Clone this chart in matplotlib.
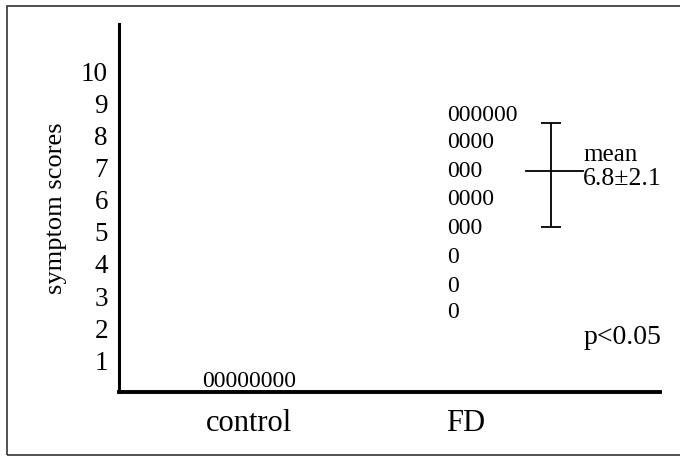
import matplotlib.pyplot as plt
from matplotlib.patches import Rectangle

plt.rcParams['font.family'] = ['Liberation Serif', 'DejaVu Serif']

groups = ["control", "FD"]
group_pos = [1, 2]

# control: all zero
control_y = 0.0
control_count = 8

# FD rows (as placed in the picture) and number of subjects in each row
fd_y = [8.65, 7.8, 6.9, 6.0, 5.1, 4.2, 3.3, 2.5]
fd_counts = [6, 4, 3, 4, 3, 1, 1, 1]

mean_y = 6.9
err_low = 5.15
err_high = 8.4

fig = plt.figure(figsize=(6.8, 4.57), dpi=100)
ax = fig.add_axes([0.175, 0.142, 0.796, 0.806])

ax.set_xlim(0.398, 2.903)
ax.set_ylim(0, 11.5)

for s in ["top", "right"]:
    ax.spines[s].set_visible(False)
ax.spines["left"].set_linewidth(2.2)
ax.spines["bottom"].set_linewidth(2.8)

ax.set_yticks(range(1, 11))
ax.set_yticklabels([str(i) for i in range(1, 11)], fontsize=19.5)
ax.tick_params(axis="y", length=0, pad=8)
ax.set_xticks(group_pos)
ax.set_xticklabels(groups, fontsize=22)
ax.tick_params(axis="x", length=0, pad=12)
ax.set_ylabel("symptom scores", fontsize=19, labelpad=10)

# control zeros
ax.text(1, control_y, "0" * control_count, ha="center", va="bottom", fontsize=17)

# FD zeros
for y, n in zip(fd_y, fd_counts):
    ax.text(1.917, y, "0" * n, ha="left", va="center", fontsize=17)

# mean and SD bar
ax.errorbar([2.398], [mean_y], yerr=[[mean_y - err_low], [err_high - mean_y]],
            fmt="none", ecolor="black", elinewidth=1.3, capsize=7.5, capthick=1.3)
ax.plot([2.282, 2.546], [mean_y, mean_y], color="black", lw=1.3)

ax.text(2.546, 7.4, "mean", ha="left", va="center", fontsize=18)
ax.text(2.546, 6.66, "6.8±2.1", ha="left", va="center", fontsize=18.5)
ax.text(2.546, 1.72, "p<0.05", ha="left", va="center", fontsize=20)

fig.patches.append(Rectangle((0.0103, 0.0044), 1.2, 0.983, transform=fig.transFigure,
                             fill=False, edgecolor="#333333", lw=1.2))

fig.savefig("out.png", dpi=100)
